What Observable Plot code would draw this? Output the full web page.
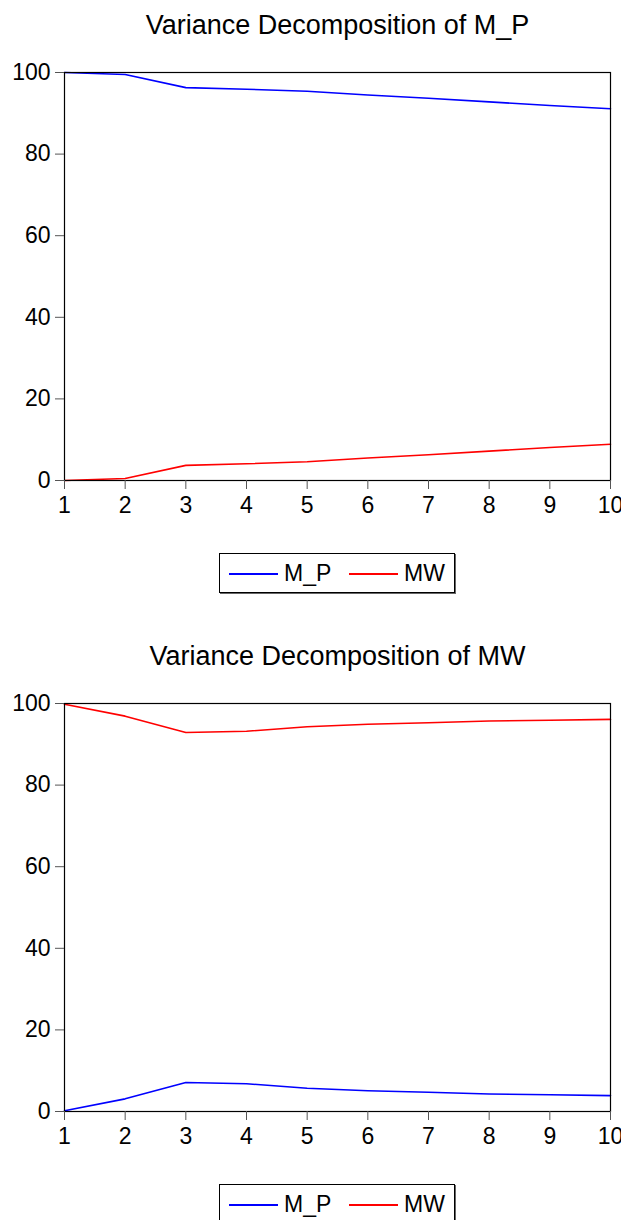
<!DOCTYPE html>
<html>
<head>
<meta charset="utf-8">
<script src="https://cdn.jsdelivr.net/npm/d3@7"></script>
<script src="https://cdn.jsdelivr.net/npm/@observablehq/plot@0.6"></script>
<style>
  html, body { margin: 0; padding: 0; background: #fff; }
  body { width: 621px; height: 1220px; position: relative; overflow: hidden; font-family: "Liberation Sans", Arial, sans-serif; color: #000; }
  .title { position: absolute; left: 65px; width: 545px; height: 50px; line-height: 50px; text-align: center; font-size: 27px; }
  .legend { position: absolute; left: 219px; width: 234px; height: 38px; border: 1px solid #000; box-shadow: 1px 1px 0 #666; background: #fff; font-size: 23px; }
  .legend .sw { position: absolute; top: 19px; height: 0; border-top: 2px solid; width: 49px; }
  .legend .lb { position: absolute; top: 0; line-height: 38px; }
  .panel-svg { position: absolute; left: 0; }
</style>
</head>
<body>
<script>
// ---- data ----
const periods = [1, 2, 3, 4, 5, 6, 7, 8, 9, 10];
const seriesNames = ["M_P", "MW"];
const seriesColors = ["#0000ff", "#ff0000"];
const yTicks = [0, 20, 40, 60, 80, 100];

// Panel 1: Variance Decomposition of M_P
const mp_of_MP = [100.0, 99.5, 96.3, 95.9, 95.4, 94.5, 93.7, 92.8, 91.9, 91.1];
const mw_of_MP = [0.0, 0.5, 3.7, 4.1, 4.6, 5.5, 6.3, 7.2, 8.1, 8.9];

// Panel 2: Variance Decomposition of MW
const mp_of_MW = [0.2, 3.1, 7.1, 6.8, 5.7, 5.1, 4.7, 4.3, 4.1, 3.9];
const mw_of_MW = [99.8, 96.9, 92.9, 93.2, 94.3, 94.9, 95.3, 95.7, 95.9, 96.1];

const titles = ["Variance Decomposition of M_P", "Variance Decomposition of MW"];

function makeTable(mp, mw) {
  const rows = [];
  periods.forEach((p, i) => rows.push({period: p, value: mp[i], series: seriesNames[0]}));
  periods.forEach((p, i) => rows.push({period: p, value: mw[i], series: seriesNames[1]}));
  return rows;
}

function panel(offset, title, mp, mw) {
  const t = document.createElement("div");
  t.className = "title";
  t.style.top = (offset) + "px";
  t.textContent = title;
  document.body.appendChild(t);

  const data = makeTable(mp, mw);
  const svg = Plot.plot({
    width: 621,
    height: 485,
    marginTop: 22,
    marginBottom: 55,
    marginLeft: 64,
    marginRight: 11,
    style: {fontFamily: "'Liberation Sans', Arial, sans-serif", fontSize: "23px", color: "#000", background: "transparent", overflow: "visible"},
    x: {domain: [1, 10]},
    y: {domain: [0, 100]},
    color: {domain: seriesNames, range: seriesColors},
    marks: [
      Plot.line(data, {x: "period", y: "value", z: "series", stroke: "series", strokeWidth: 1.6}),
      Plot.frame({stroke: "#000", strokeWidth: 1.2}),
      Plot.axisY({ticks: yTicks, tickSize: 9, tickPadding: 5, label: null, stroke: "#555"}),
      Plot.axisX({ticks: periods, tickSize: 9, tickPadding: 7, label: null, tickFormat: d => String(d), stroke: "#555"})
    ]
  });
  svg.classList.add("panel-svg");
  svg.style.top = (offset + 50) + "px";
  document.body.appendChild(svg);

  const lg = document.createElement("div");
  lg.className = "legend";
  lg.style.top = (offset + 553) + "px";
  const items = [
    {sw: 9, lb: 64, name: seriesNames[0], color: seriesColors[0]},
    {sw: 129, lb: 184, name: seriesNames[1], color: seriesColors[1]}
  ];
  for (const it of items) {
    const s = document.createElement("div");
    s.className = "sw";
    s.style.left = it.sw + "px";
    s.style.borderTopColor = it.color;
    lg.appendChild(s);
    const l = document.createElement("div");
    l.className = "lb";
    l.style.left = it.lb + "px";
    l.textContent = it.name;
    lg.appendChild(l);
  }
  document.body.appendChild(lg);
}

panel(0, titles[0], mp_of_MP, mw_of_MP);
panel(631, titles[1], mp_of_MW, mw_of_MW);
</script>
</body>
</html>
